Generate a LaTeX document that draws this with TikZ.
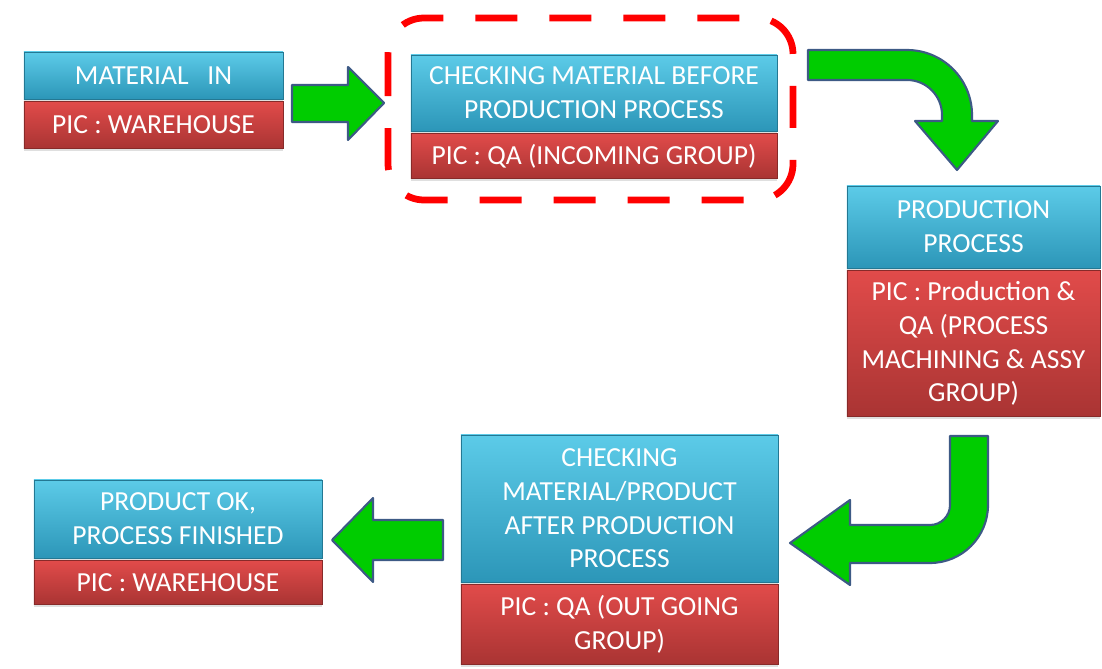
\documentclass[tikz,border=0pt]{standalone}
\usepackage{fontspec}
\setmainfont{Carlito}
\usepackage{xcolor}
\usepackage{tikz}
\usetikzlibrary{arrows.meta, calc, positioning, shadows}

\definecolor{boxbluetop}{HTML}{5CCBE8}
\definecolor{boxbluebot}{HTML}{2C96B8}
\definecolor{boxredtop}{HTML}{E14B4A}
\definecolor{boxredbot}{HTML}{A93433}
\definecolor{arrowgreen}{HTML}{00CC00}
\definecolor{arrowedge}{HTML}{3D5A85}

\tikzset{
    titlebox/.style={rectangle, draw=boxbluebot!80!black, line width=0.4pt,
        top color=boxbluetop, bottom color=boxbluebot, text=white,
        align=center, inner sep=0pt,
        drop shadow={opacity=0.25, shadow xshift=0pt, shadow yshift=-2pt},
        font=\fontsize{19.6}{24}\selectfont},
    picbox/.style={rectangle, draw=boxredbot!80!black, line width=0.4pt,
        top color=boxredtop, bottom color=boxredbot, text=white,
        align=center, inner sep=0pt, below=0.05cm of #1,
        drop shadow={opacity=0.25, shadow xshift=0pt, shadow yshift=-2pt},
        font=\fontsize{19.6}{24}\selectfont},
    blockarrow/.style={fill=arrowgreen, draw=arrowedge, line width=1.5pt, line join=round},
}

\begin{document}
\begin{tikzpicture}[x=0.025cm, y=-0.025cm, >=Stealth]
    \useasboundingbox (0,0) rectangle (1102,669);

    % --- 1: material in ---
    \node[titlebox, minimum width=6.475cm, minimum height=1.175cm] (matin) at (153.5,75.5) {MATERIAL\ \ \ IN};
    \node[picbox=matin, minimum width=6.475cm, minimum height=1.175cm] (matinpic) {PIC : WAREHOUSE};

    % --- 2: incoming check ---
    \node[titlebox, minimum width=9.15cm, minimum height=1.9cm] (incheck) at (594,93) {CHECKING MATERIAL BEFORE\\PRODUCTION PROCESS};
    \node[picbox=incheck, minimum width=9.15cm, minimum height=1.125cm] (incheckpic) {PIC : QA (INCOMING GROUP)};

    % highlight round the incoming check
    \draw[red, line width=4.8pt, dash pattern=on 1.05cm off 0.8cm, rounded corners=0.9cm]
        (388,18) rectangle (793,200);

    % --- 3: production ---
    \node[titlebox, minimum width=6.325cm, minimum height=2.05cm] (prod) at (973.5,227) {PRODUCTION\\PROCESS};
    \node[picbox=prod, minimum width=6.325cm, minimum height=3.65cm] (prodpic) {PIC : Production \&\\QA (PROCESS\\MACHINING \& ASSY\\GROUP)};

    % --- 4: outgoing check ---
    \node[titlebox, minimum width=7.925cm, minimum height=3.675cm] (outcheck) at (619.5,508.5) {CHECKING\\MATERIAL/PRODUCT\\AFTER PRODUCTION\\PROCESS};
    \node[picbox=outcheck, minimum width=7.925cm, minimum height=2.0cm] (outcheckpic) {PIC : QA (OUT GOING\\GROUP)};

    % --- 5: finished ---
    \node[titlebox, minimum width=7.2cm, minimum height=1.95cm] (done) at (178,519) {PRODUCT OK,\\PROCESS FINISHED};
    \node[picbox=done, minimum width=7.2cm, minimum height=1.1cm] (donepic) {PIC : WAREHOUSE};

    % --- block arrows ---
    % material in -> incoming check
    \draw[blockarrow] (292,85) -- (348,85) -- (348,67) -- (384,103) -- (348,140)
        -- (348,122) -- (292,122) -- cycle;

    % incoming check -> production (bent down)
    \draw[blockarrow] (808,50) -- (907,50) arc (-90:0:65) -- (972,121) -- (998,121)
        -- (957,170) -- (915,121) -- (942,121) -- (942,115) arc (0:-90:35) -- (808,80) -- cycle;

    % production -> outgoing check (bent left)
    \draw[blockarrow] (950,436) -- (988,436) -- (988,505) arc (0:90:58) -- (850,563)
        -- (850,585) -- (790,543) -- (850,500) -- (850,525) -- (930,525) arc (90:0:20) -- cycle;

    % outgoing check -> finished
    \draw[blockarrow] (443,520) -- (373,520) -- (373,498) -- (332,540) -- (373,582)
        -- (373,560) -- (443,560) -- cycle;

\end{tikzpicture}
\end{document}
